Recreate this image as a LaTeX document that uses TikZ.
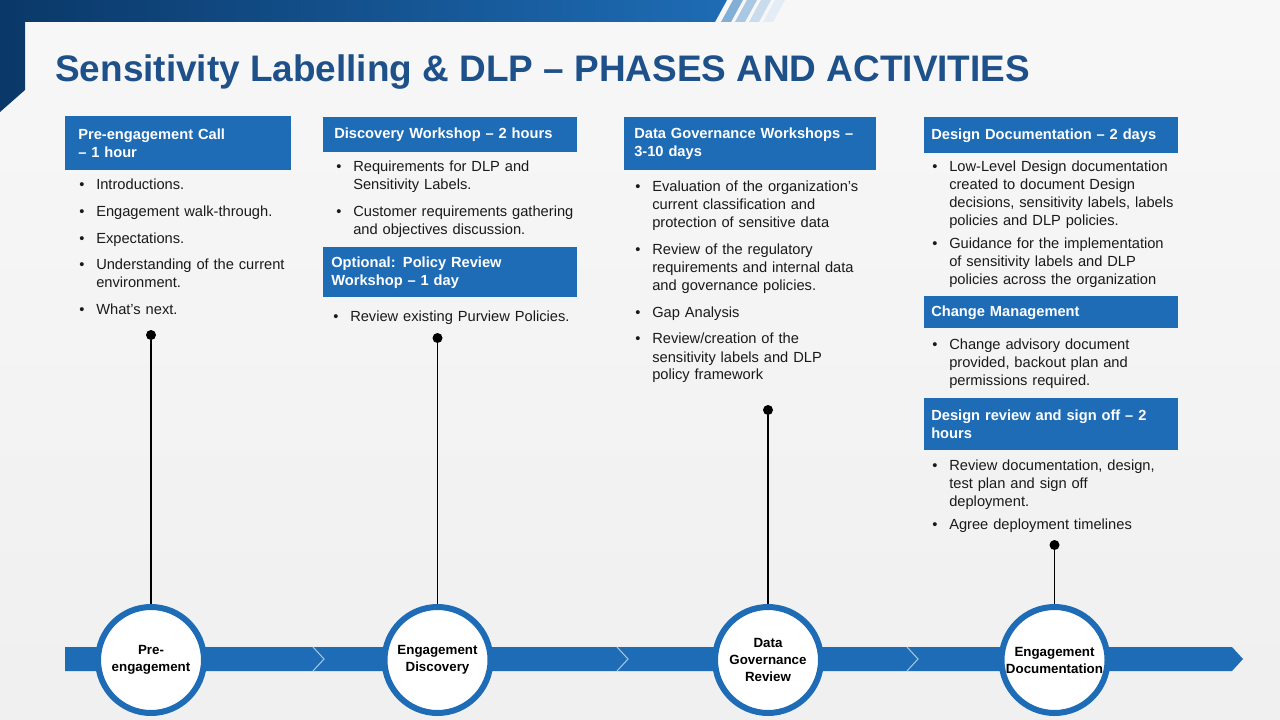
\documentclass[tikz,border=0pt]{standalone}
\usepackage{fontspec}
\setmainfont{Liberation Sans}
\usepackage{xcolor}

\definecolor{boxblue}{RGB}{30,108,181}
\definecolor{titleblue}{RGB}{30,80,138}
\definecolor{navy}{RGB}{10,56,104}
\definecolor{bodytext}{RGB}{26,26,26}

\newlength\bulgap
\setlength\bulgap{6.5pt}
\newcommand{\bul}[1]{\hangindent=12.75pt\hangafter=1\noindent\hbox to 12.75pt{\textbullet\hfil}#1\par\vspace{\bulgap}}

\begin{document}
\begin{tikzpicture}[x=0.75pt,y=-0.75pt,
    hdr/.style={fill=boxblue,text=white,anchor=north west,inner ysep=0pt,
      font=\bfseries\fontsize{11}{13.5}\selectfont,align=left},
    bullets/.style={anchor=base west,inner sep=0pt,text width=190pt,text=bodytext,
      font=\fontsize{11}{13.5}\selectfont},
    phase/.style={circle,draw=boxblue,line width=4.5pt,fill=white,minimum size=79.5pt,
      inner sep=0pt,font=\bfseries\fontsize{10}{12.75}\selectfont,align=center},
    pin/.style={circle,fill=black,inner sep=0pt,minimum size=7.5pt}]

    \useasboundingbox (0,0) rectangle (1280,720);

    \shade[top color=white!97!black,bottom color=white!94!black] (0,0) rectangle (1280,720);

    \shade[left color=navy,right color=boxblue]
    (0,0) -- (727,0) -- (715,22) -- (25,22) -- (25,90) -- (0,112) -- cycle;

    \foreach \s/\c in {0/55,14/38,28/24,42/12}
      \fill[boxblue!\c!white] (733+\s,0) -- (743+\s,0) -- (731+\s,22) -- (721+\s,22) -- cycle;

    \node[anchor=base west,inner sep=0pt,text=titleblue,font=\bfseries\fontsize{27.7}{34}\selectfont]
    (title) at (55,82) {Sensitivity Labelling \& DLP \textendash\ PHASES AND ACTIVITIES};

    \fill[boxblue] (65,647) -- (1232,647) -- (1243,659) -- (1232,671) -- (65,671) -- cycle;

    \foreach \x in {313,617,907}
      \draw[white!60!boxblue,line width=0.8pt] (\x,647) -- (\x+11,659) -- (\x,671);



    \begin{scope}[xshift=48.75pt]

      \node[hdr,inner xsep=9.75pt,text width=150pt,minimum height=40.5pt]
      (call) at (0,116) {Pre-engagement Call\\\textendash\ 1 hour};

      \node[bullets] (calllist) at (14,190)
      {\bul{Introductions.}\bul{Engagement walk-through.}\bul{Expectations.}%
        \bul{Understanding of the current\newline environment.}\bul{What's next.}};

      \node[pin] (pin1) at (86,335) {};
      \node[phase] (pre) at (86,660) {Pre-\\engagement};
      \draw[line width=1.2pt] (pin1) -- (pre);

    \end{scope}



    \begin{scope}[xshift=242.25pt]

      \node[hdr,inner xsep=8.25pt,text width=174pt,minimum height=26.25pt]
      (disc) at (0,117) {Discovery Workshop \textendash\ 2 hours};

      \node[bullets] (disclist) at (13,172)
      {\bul{Requirements for DLP and\newline Sensitivity Labels.}%
        \bul{Customer requirements gathering\newline and objectives discussion.}};

      \node[hdr,inner xsep=6pt,text width=178.5pt,minimum height=37.5pt]
      (policy) at (0,247) {Optional: Policy Review\\Workshop \textendash\ 1 day};

      \node[bullets] (policylist) at (10,321) {\bul{Review existing Purview Policies.}};

      \node[pin] (pin2) at (114.5,338) {};
      \node[phase] (disco) at (114.5,660) {Engagement\\Discovery};
      \draw[line width=1.2pt] (pin2) -- (disco);

    \end{scope}



    \begin{scope}[xshift=468pt]

      \node[hdr,inner xsep=7.5pt,text width=174pt,minimum height=39.75pt]
      (gov) at (0,117) {Data Governance Workshops \textendash\\3-10 days};

      \node[bullets] (govlist) at (11,192)
      {\bul{Evaluation of the organization's\newline current classification and\newline protection of sensitive data}%
        \bul{Review of the regulatory\newline requirements and internal data\newline and governance policies.}%
        \bul{Gap Analysis}%
        \bul{Review/creation of the\newline sensitivity labels and DLP\newline policy framework}};

      \node[pin] (pin3) at (144,410) {};
      \node[phase] (review) at (144,660) {Data\\Governance\\Review};
      \draw[line width=1.2pt] (pin3) -- (review);

    \end{scope}



    \begin{scope}[xshift=693pt]

      \node[hdr,inner xsep=5.25pt,text width=180pt,minimum height=27pt]
      (design) at (0,117) {Design Documentation \textendash\ 2 days};

      \node[bullets] (designlist) at (8,172)
      {\setlength\bulgap{3.75pt}%
        \bul{Low-Level Design documentation\newline created to document Design\newline decisions, sensitivity labels, labels\newline policies and DLP policies.}%
        \bul{Guidance for the implementation\newline of sensitivity labels and DLP\newline policies across the organization}};

      \node[hdr,inner xsep=5.25pt,text width=180pt,minimum height=24pt]
      (change) at (0,296) {Change Management};

      \node[bullets] (changelist) at (8,349)
      {\bul{Change advisory document\newline provided, backout plan and\newline permissions required.}};

      \node[hdr,inner xsep=5.25pt,text width=180pt,minimum height=39pt]
      (signoff) at (0,398) {Design review and sign off \textendash\ 2\\hours};

      \node[bullets] (signofflist) at (8,470)
      {\setlength\bulgap{3.75pt}%
        \bul{Review documentation, design,\newline test plan and sign off\newline deployment.}%
        \bul{Agree deployment timelines}};

      \node[pin] (pin4) at (130.5,545) {};
      \node[phase] (docs) at (130.5,660) {Engagement\\Documentation};
      \draw[line width=1.2pt] (pin4) -- (docs);

    \end{scope}

  \end{tikzpicture}
\end{document}
